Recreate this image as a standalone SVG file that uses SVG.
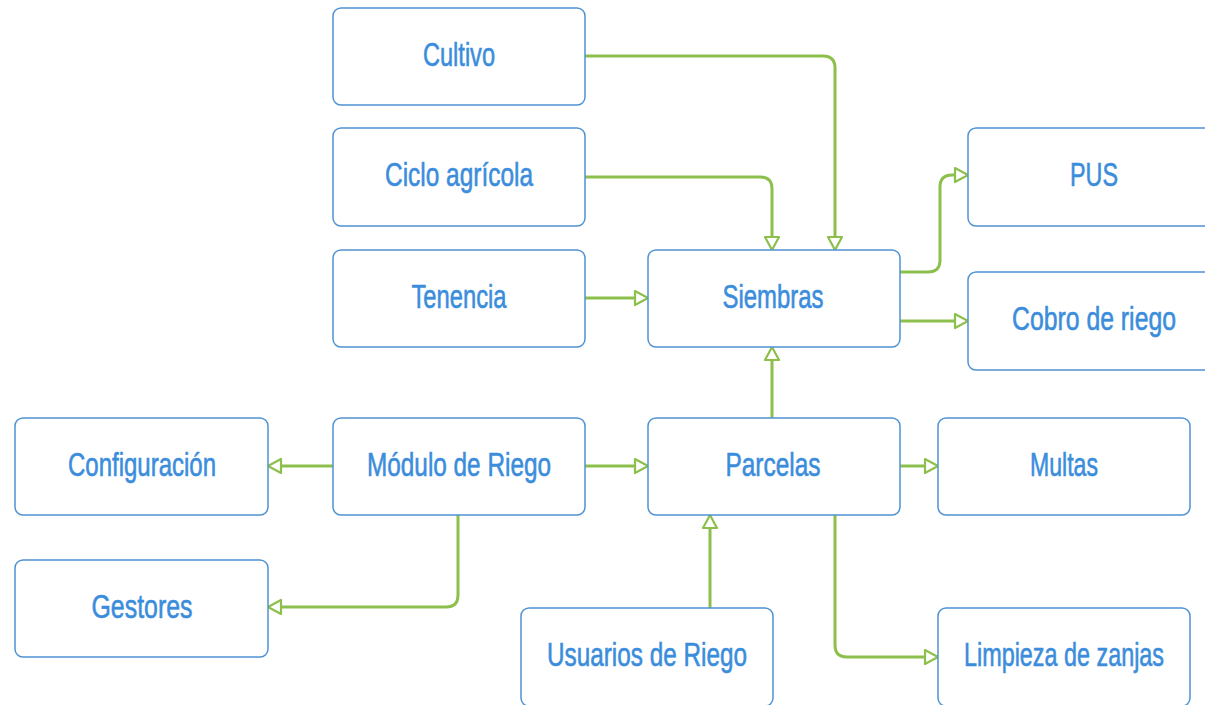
<svg xmlns="http://www.w3.org/2000/svg" width="1205" height="705" viewBox="0 0 1205 705">
<style>
.box{fill:#ffffff;stroke:#4f93d3;stroke-width:1.5}
.lbl{font-family:"Liberation Sans",Arial,sans-serif;font-size:33px;fill:#3b8ddc;stroke:#3b8ddc;stroke-width:0.6;text-anchor:middle}
.con{fill:none;stroke:#8dbf4c;stroke-width:3;marker-end:url(#arr)}
</style>
<defs>
<marker id="arr" markerUnits="userSpaceOnUse" markerWidth="18" markerHeight="18" refX="13" refY="7" orient="auto" viewBox="-2 -2 18 18">
<path d="M0,0 L13,7 L0,14 Z" fill="#ffffff" stroke="#8dbf4c" stroke-width="2.2" stroke-linejoin="round"/>
</marker>
</defs>
<rect width="1205" height="705" fill="#ffffff"/>
<g id="connectors">
<path class="con" d="M585,56 H823 Q835,56 835,68 V250"/>
<path class="con" d="M585,177 H760 Q772,177 772,189 V250"/>
<path class="con" d="M585,298 H648"/>
<path class="con" d="M900,272 H928 Q940,272 940,260 V187 Q940,175 952,175 H968"/>
<path class="con" d="M900,321 H968"/>
<path class="con" d="M772,418 V347"/>
<path class="con" d="M333,466 H268"/>
<path class="con" d="M585,466 H648"/>
<path class="con" d="M458,515 V595 Q458,607 446,607 H268"/>
<path class="con" d="M900,466 H938"/>
<path class="con" d="M710,608 V515"/>
<path class="con" d="M835,515 V645 Q835,657 847,657 H938"/>
</g>
<g id="cultivo"><rect class="box" x="333" y="8" width="252" height="97" rx="8"/><text class="lbl" x="459" y="66" textLength="72" lengthAdjust="spacingAndGlyphs">Cultivo</text></g>
<g id="ciclo"><rect class="box" x="333" y="128" width="252" height="98" rx="8"/><text class="lbl" x="459" y="186" textLength="148" lengthAdjust="spacingAndGlyphs">Ciclo agrícola</text></g>
<g id="tenencia"><rect class="box" x="333" y="250" width="252" height="97" rx="8"/><text class="lbl" x="459" y="308" textLength="95" lengthAdjust="spacingAndGlyphs">Tenencia</text></g>
<g id="siembras"><rect class="box" x="648" y="250" width="252" height="97" rx="8"/><text class="lbl" x="773" y="308" textLength="101" lengthAdjust="spacingAndGlyphs">Siembras</text></g>
<g id="pus"><rect class="box" x="968" y="128" width="252" height="98" rx="8"/><text class="lbl" x="1094" y="186" textLength="48" lengthAdjust="spacingAndGlyphs">PUS</text></g>
<g id="cobro"><rect class="box" x="968" y="272" width="252" height="98" rx="8"/><text class="lbl" x="1094" y="330" textLength="164" lengthAdjust="spacingAndGlyphs">Cobro de riego</text></g>
<g id="configuracion"><rect class="box" x="15" y="418" width="253" height="97" rx="8"/><text class="lbl" x="142" y="476" textLength="148" lengthAdjust="spacingAndGlyphs">Configuración</text></g>
<g id="modulo"><rect class="box" x="333" y="418" width="252" height="97" rx="8"/><text class="lbl" x="459" y="476" textLength="184" lengthAdjust="spacingAndGlyphs">Módulo de Riego</text></g>
<g id="parcelas"><rect class="box" x="648" y="418" width="252" height="97" rx="8"/><text class="lbl" x="773" y="476" textLength="95" lengthAdjust="spacingAndGlyphs">Parcelas</text></g>
<g id="multas"><rect class="box" x="938" y="418" width="252" height="97" rx="8"/><text class="lbl" x="1064" y="476" textLength="68" lengthAdjust="spacingAndGlyphs">Multas</text></g>
<g id="gestores"><rect class="box" x="15" y="560" width="253" height="97" rx="8"/><text class="lbl" x="142" y="618" textLength="101" lengthAdjust="spacingAndGlyphs">Gestores</text></g>
<g id="usuarios"><rect class="box" x="521" y="608" width="252" height="98" rx="8"/><text class="lbl" x="647" y="666" textLength="200" lengthAdjust="spacingAndGlyphs">Usuarios de Riego</text></g>
<g id="limpieza"><rect class="box" x="938" y="608" width="252" height="98" rx="8"/><text class="lbl" x="1064" y="666" textLength="200" lengthAdjust="spacingAndGlyphs">Limpieza de zanjas</text></g>
</svg>
